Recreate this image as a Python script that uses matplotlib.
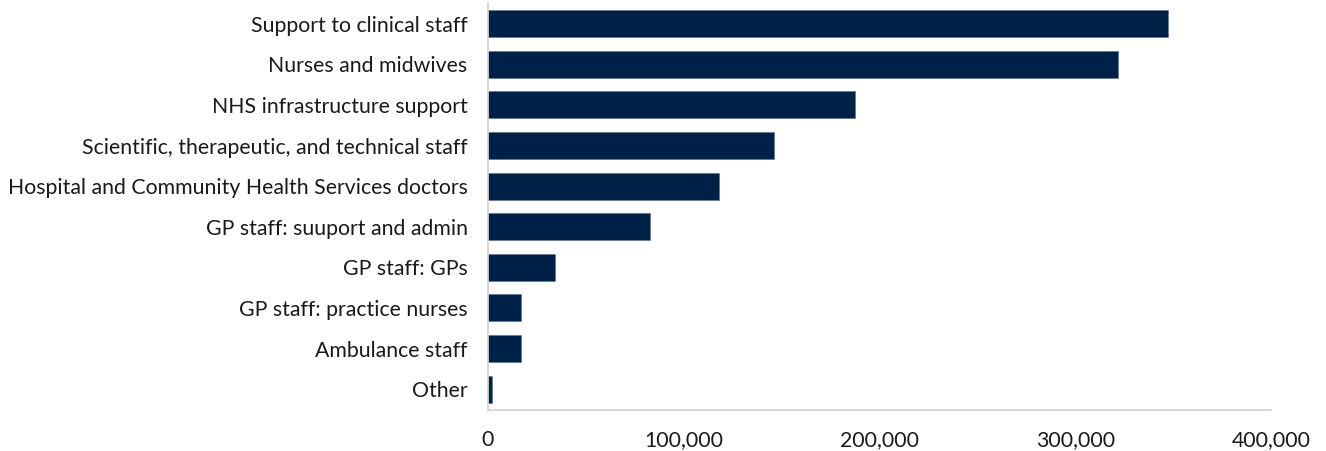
import matplotlib.pyplot as plt
from matplotlib.ticker import FuncFormatter

plt.rcParams["font.family"] = ["Lato", "DejaVu Sans"]

# ---------------------------------------------------------------------
# NHS staff groups (full-time equivalent), largest first
# ---------------------------------------------------------------------
categories = [
    "Support to clinical staff",
    "Nurses and midwives",
    "NHS infrastructure support",
    "Scientific, therapeutic, and technical staff",
    "Hospital and Community Health Services doctors",
    "GP staff: suuport and admin",
    "GP staff: GPs",
    "GP staff: practice nurses",
    "Ambulance staff",
    "Other",
]
staff = [347500, 321700, 187500, 146300, 117900, 82900, 34400, 16900, 16900, 2200]

x_ticks = [0, 100000, 200000, 300000, 400000]

bar_color = "#002147"
axis_color = "#d6cfc9"
text_color = "#1a1a1a"

fig = plt.figure(figsize=(13.26, 4.51), dpi=100)
ax = fig.add_axes([0.368, 0.092, 0.5905, 0.9005])

ypos = list(range(len(categories)))
ax.barh(ypos, staff, height=0.665, color=bar_color, edgecolor="#5a6f8c", linewidth=0.4)

ax.set_xlim(0, 400000)
ax.set_ylim(len(categories) - 0.5, -0.5)
ax.set_yticks(ypos)
ax.set_yticklabels(categories, fontsize=15.35, color=text_color)
ax.set_xticks(x_ticks)
ax.xaxis.set_major_formatter(FuncFormatter(lambda v, p: f"{int(v):,}"))
ax.tick_params(axis="x", length=0, pad=14.5, labelsize=15.35, labelcolor=text_color)
ax.tick_params(axis="y", length=0, pad=14.7)

for side in ["top", "right"]:
    ax.spines[side].set_visible(False)
for side in ["left", "bottom"]:
    ax.spines[side].set_color(axis_color)
    ax.spines[side].set_linewidth(1.2)

fig.savefig("out.png", dpi=100)
